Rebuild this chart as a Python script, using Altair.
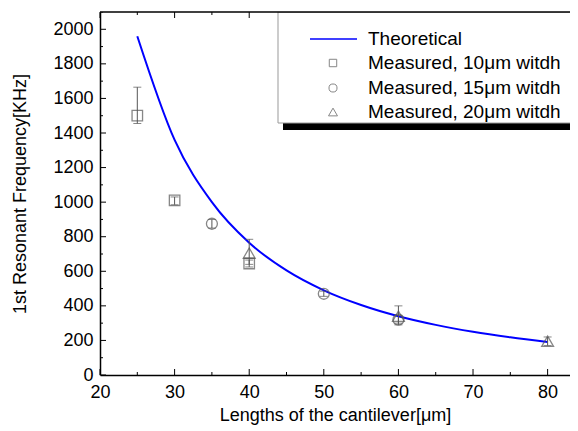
import altair as alt
import pandas as pd

# Theoretical curve
theo_len = [25, 30, 35, 40, 45, 50, 55, 60, 65, 70, 75, 80]
theo_freq = [1960, 1360, 1000, 765, 605, 490, 405, 340, 290, 250, 218, 191]

# Measured, 10um width (squares)
sq_len = [25, 30, 40]
sq_freq = [1500, 1010, 645]
sq_lo = [1455, 985, 625]
sq_hi = [1665, 1030, 665]

# Measured, 15um width (circles)
ci_len = [35, 50, 60]
ci_freq = [875, 470, 320]
ci_lo = [850, 455, 300]
ci_hi = [900, 485, 345]

# Measured, 20um width (triangles)
tr_len = [40, 60, 80]
tr_freq = [705, 340, 195]
tr_lo = [640, 290, 170]
tr_hi = [785, 400, 220]

legend_labels = ["Theoretical", "Measured, 10\u03bcm witdh",
                 "Measured, 15\u03bcm witdh", "Measured, 20\u03bcm witdh"]

x_major = [20, 30, 40, 50, 60, 70, 80]
x_minor = [25, 35, 45, 55, 65, 75]
y_major = list(range(0, 2001, 200))
y_minor = list(range(100, 2101, 200))

W, H = 470, 363
FONT = "Liberation Sans"
GRAY = "#555555"

xs = alt.Scale(domain=[20, 83], nice=False, zero=False)
ys = alt.Scale(domain=[0, 2100], nice=False)

AX_X = alt.Axis(title="Lengths of the cantilever[\u03bcm]",
                values=x_major, ticks=False, grid=False,
                labelOverlap=False, labelFlush=False, format="d",
                labelPadding=8, titlePadding=5,
                domainColor="black", domainWidth=1.5)
AX_Y = alt.Axis(title="1st Resonant Frequency[KHz]",
                values=y_major, ticks=False, grid=False,
                labelOverlap=False, labelFlush=False, format="d",
                labelPadding=7, titlePadding=23,
                domainColor="black", domainWidth=1.5)

theo = pd.DataFrame({"L": theo_len, "F": theo_freq})

def meas(lens, f, lo, hi):
    return pd.DataFrame({"L": lens, "F": f, "lo": lo, "hi": hi})

sq = meas(sq_len, sq_freq, sq_lo, sq_hi)
ci = meas(ci_len, ci_freq, ci_lo, ci_hi)
tr = meas(tr_len, tr_freq, tr_lo, tr_hi)

def X(f):
    return alt.X(f, scale=xs, axis=AX_X)

def Y(f):
    return alt.Y(f, scale=ys, axis=AX_Y)

line = alt.Chart(theo).mark_line(color="#0000ff", strokeWidth=2,
                                 interpolate="monotone").encode(x=X("L:Q"), y=Y("F:Q"))

layers = [line]
for df, shape, size in [(sq, "square", 110), (ci, "circle", 120), (tr, "triangle-up", 140)]:
    err = alt.Chart(df).mark_rule(color=GRAY, strokeWidth=1).encode(
        x=X("L:Q"), y=Y("lo:Q"), y2="hi:Q")
    cap_hi = alt.Chart(df).mark_tick(color=GRAY, orient="horizontal", size=8,
                                     thickness=1).encode(x=X("L:Q"), y=Y("hi:Q"))
    cap_lo = alt.Chart(df).mark_tick(color=GRAY, orient="horizontal", size=8,
                                     thickness=1).encode(x=X("L:Q"), y=Y("lo:Q"))
    pts = alt.Chart(df).mark_point(shape=shape, filled=False, color=GRAY,
                                   strokeWidth=1.3, size=size).encode(
        x=X("L:Q"), y=Y("F:Q"))
    layers += [err, cap_hi, cap_lo, pts]

# Inward ticks
xt = pd.DataFrame({"v": x_major + x_minor,
                   "len": [6] * len(x_major) + [3] * len(x_minor)})
yt = pd.DataFrame({"v": y_major + y_minor,
                   "len": [6] * len(y_major) + [3] * len(y_minor)})
for df in [xt[xt.len == 6], xt[xt.len == 3]]:
    ln = int(df.len.iloc[0])
    layers.append(alt.Chart(df).mark_rule(color="black", strokeWidth=1).encode(
        x=X("v:Q"), y=alt.value(H), y2=alt.value(H - ln)))
    layers.append(alt.Chart(df).mark_rule(color="black", strokeWidth=1).encode(
        x=X("v:Q"), y=alt.value(0), y2=alt.value(ln)))
for df in [yt[yt.len == 6], yt[yt.len == 3]]:
    ln = int(df.len.iloc[0])
    layers.append(alt.Chart(df).mark_rule(color="black", strokeWidth=1, clip=True).encode(
        y=Y("v:Q"), x=alt.value(0), x2=alt.value(ln)))

one = pd.DataFrame({"a": [0]})

# Legend box with shadow
layers.append(alt.Chart(one).mark_rect(color="black", clip=True).encode(
    x=alt.value(183), x2=alt.value(480), y=alt.value(111), y2=alt.value(118)))
layers.append(alt.Chart(one).mark_rect(fill="white", stroke="#999999",
                                       strokeWidth=1, clip=True).encode(
    x=alt.value(178), x2=alt.value(480), y=alt.value(0), y2=alt.value(111)))
# legend entries
row_y = [27, 51, 76, 100]
layers.append(alt.Chart(one).mark_rule(color="#0000ff", strokeWidth=1.5).encode(
    x=alt.value(210), x2=alt.value(257), y=alt.value(row_y[0])))
for shape, ry, size in [("square", row_y[1], 55), ("circle", row_y[2], 65),
                        ("triangle-up", row_y[3], 80)]:
    layers.append(alt.Chart(one).mark_point(shape=shape, filled=False, color=GRAY,
                                            strokeWidth=1, size=size).encode(
        x=alt.value(233), y=alt.value(ry)))
for lab, ry in zip(legend_labels, row_y):
    layers.append(alt.Chart(one).mark_text(text=lab, align="left", baseline="middle",
                                           font=FONT, fontSize=19, color="black").encode(
        x=alt.value(268), y=alt.value(ry)))

# top frame
layers.append(alt.Chart(one).mark_rule(color="black", strokeWidth=1.5).encode(
    x=alt.value(0), x2=alt.value(W), y=alt.value(0)))

chart = alt.layer(*layers).properties(
    width=W, height=H,
    autosize=alt.AutoSizeParams(type="none"),
    padding={"left": 92, "top": 4, "right": 0, "bottom": 50},
).configure_view(stroke=None).configure_axis(
    labelFont=FONT, titleFont=FONT, labelFontSize=18, titleFontSize=18,
    labelColor="black", titleColor="black", titleFontWeight="normal",
)

chart.save("out.html", embed_options={"renderer": "svg", "actions": False})
